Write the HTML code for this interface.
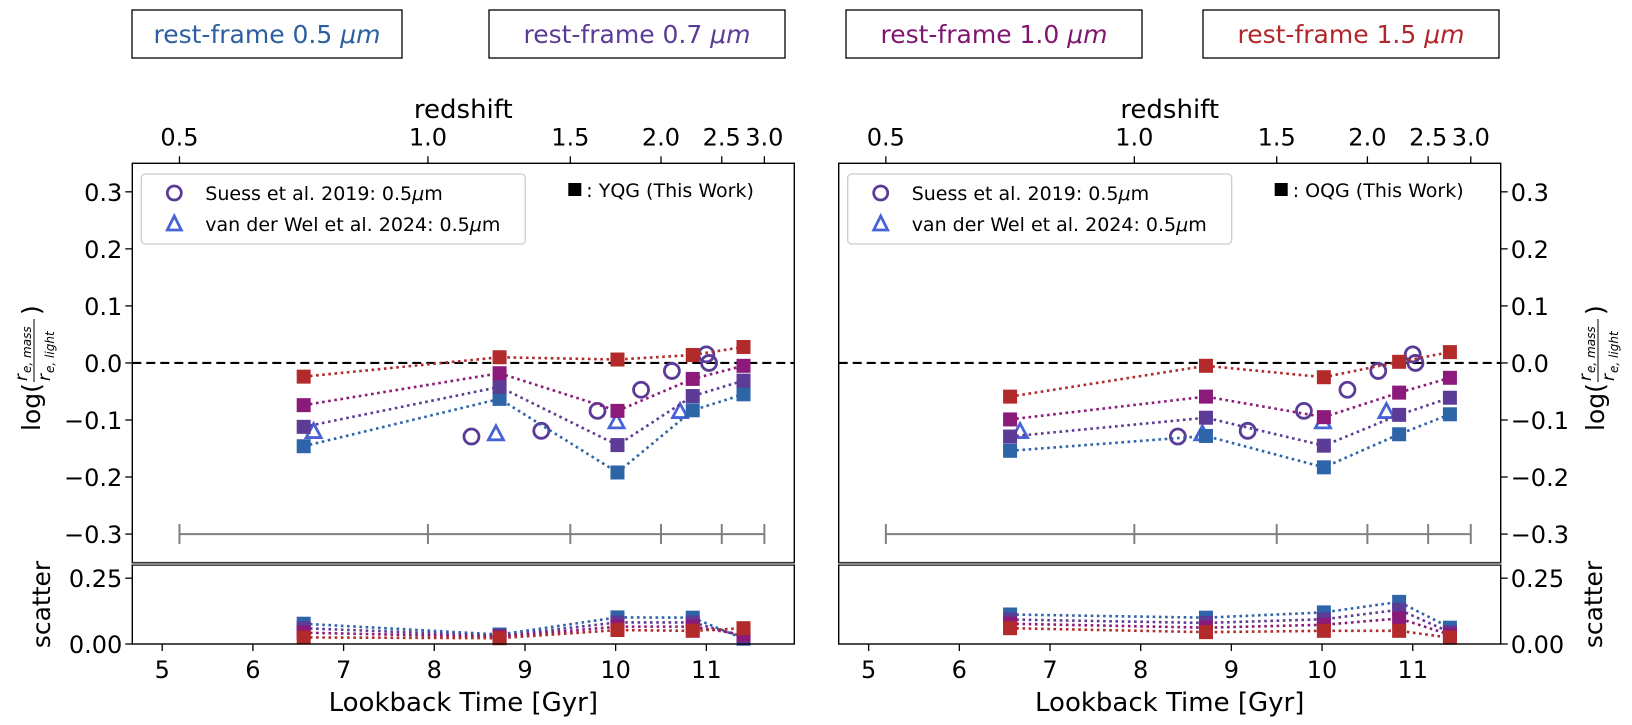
<!DOCTYPE html>
<html><head><meta charset="utf-8">
<style>
html,body{margin:0;padding:0;background:#fff;}
svg{display:block;font-family:"DejaVu Sans","Liberation Sans",sans-serif;}
</style></head>
<body>
<svg id="fig" width="1632" height="725" viewBox="0 0 1632 725" xmlns="http://www.w3.org/2000/svg">
  <g>
    <g><rect x="132" y="10" width="270" height="48" fill="#fff" stroke="#000" stroke-width="1.3"/><text x="267" y="43" text-anchor="middle" font-size="25" fill="#2b5fa0">rest-frame 0.5 <tspan font-style="italic">μm</tspan></text></g>
    <g><rect x="489" y="10" width="296" height="48" fill="#fff" stroke="#000" stroke-width="1.3"/><text x="637" y="43" text-anchor="middle" font-size="25" fill="#5a3b95">rest-frame 0.7 <tspan font-style="italic">μm</tspan></text></g>
    <g><rect x="846" y="10" width="296" height="48" fill="#fff" stroke="#000" stroke-width="1.3"/><text x="994" y="43" text-anchor="middle" font-size="25" fill="#7f1570">rest-frame 1.0 <tspan font-style="italic">μm</tspan></text></g>
    <g><rect x="1203" y="10" width="296" height="48" fill="#fff" stroke="#000" stroke-width="1.3"/><text x="1351" y="43" text-anchor="middle" font-size="25" fill="#b0262a">rest-frame 1.5 <tspan font-style="italic">μm</tspan></text></g>
  </g>
  <g id="panels"></g>
</svg>
<script>
// ---- data ----
const lookbackBins = [6.56, 8.72, 10.02, 10.85, 11.41];
const seriesNames = ["0.5um", "0.7um", "1.0um", "1.5um"];
const seriesColors = ["#2e64a8", "#5c3c96", "#8b1a7a", "#b22a2a"];
// YQG (left) log ratio
const yqg05 = [-0.146, -0.063, -0.192, -0.083, -0.055];
const yqg07 = [-0.112, -0.042, -0.144, -0.058, -0.031];
const yqg10 = [-0.074, -0.018, -0.084, -0.028, -0.005];
const yqg15 = [-0.024, 0.010, 0.006, 0.014, 0.028];
// OQG (right) log ratio
const oqg05 = [-0.154, -0.128, -0.183, -0.125, -0.090];
const oqg07 = [-0.129, -0.096, -0.145, -0.091, -0.061];
const oqg10 = [-0.099, -0.059, -0.095, -0.052, -0.026];
const oqg15 = [-0.059, -0.005, -0.025, 0.002, 0.019];
// scatter
const yqgSc05 = [0.077, 0.036, 0.101, 0.100, 0.020];
const yqgSc07 = [0.060, 0.031, 0.082, 0.082, 0.028];
const yqgSc10 = [0.043, 0.027, 0.066, 0.066, 0.035];
const yqgSc15 = [0.025, 0.022, 0.053, 0.050, 0.060];
const oqgSc05 = [0.112, 0.100, 0.120, 0.160, 0.062];
const oqgSc07 = [0.093, 0.080, 0.094, 0.130, 0.045];
const oqgSc10 = [0.077, 0.062, 0.073, 0.097, 0.035];
const oqgSc15 = [0.060, 0.045, 0.050, 0.050, 0.024];
// literature
const suessX = [8.41, 9.18, 9.80, 10.28, 10.62, 11.00, 11.03];
const suessY = [-0.129, -0.119, -0.084, -0.047, -0.014, 0.015, 0.000];
const welX = [6.67, 8.68, 10.01, 10.71];
const welY = [-0.122, -0.126, -0.105, -0.087];
// axes ticks
const xTicks = [5, 6, 7, 8, 9, 10, 11];
const yTicks = [0.3, 0.2, 0.1, 0.0, -0.1, -0.2, -0.3];
const scTicks = [0.25, 0.0];
const zLabels = ["0.5", "1.0", "1.5", "2.0", "2.5", "3.0"];
const zLookback = [5.19, 7.93, 9.50, 10.50, 11.17, 11.64];

const NS = "http://www.w3.org/2000/svg";
const root = document.getElementById("panels");
function mk(tag, attrs, parent){ const e=document.createElementNS(NS,tag); for(const k in attrs) e.setAttribute(k,attrs[k]); (parent||root).appendChild(e); return e; }

const xMin=4.67, xMax=11.97, W=662;
const mTop=163.3, mBot=562.6, yMin=-0.35, yMax=0.35;
const sTop=565, sBot=644, sMin=0, sMax=0.3;

function drawPanel(x0, side, main, sc, tag){
  const g = mk("g",{});
  
  
  const X = v => x0 + (v - xMin)/(xMax - xMin)*W;
  const Y = v => mBot - (v - yMin)/(yMax - yMin)*(mBot - mTop);
  const S = v => sBot - (v - sMin)/(sMax - sMin)*(sBot - sTop);
  const zl = mk("line",{x1:x0,x2:x0+W,y1:Y(0),y2:Y(0),stroke:"#000","stroke-width":2.2,"stroke-dasharray":"9 5"},g);
   
  const bar = mk("g",{},g);
   
  mk("line",{x1:X(zLookback[0]),x2:X(zLookback[zLookback.length-1]),y1:Y(-0.3),y2:Y(-0.3),stroke:"#808080","stroke-width":2},bar);
  zLookback.forEach(v=>mk("line",{x1:X(v),x2:X(v),y1:Y(-0.3)-10,y2:Y(-0.3)+10,stroke:"#808080","stroke-width":2},bar));
  suessX.forEach((v,i)=>{ const c=mk("circle",{cx:X(v),cy:Y(suessY[i]),r:7.5,fill:"none",stroke:"#5a3c96","stroke-width":2.8},g);
      });
  welX.forEach((v,i)=>{ const cx=X(v), cy=Y(welY[i]);
    const t=mk("polygon",{points:`${cx},${cy-9} ${cx-7.5},${cy+5} ${cx+7.5},${cy+5}`,fill:"none",stroke:"#4863d8","stroke-width":2.8},g);
      });
  main.forEach((arr,si)=>{
    const sg=mk("g",{},g);
     
    mk("polyline",{points:arr.map((v,i)=>X(lookbackBins[i])+","+Y(v)).join(" "),fill:"none",stroke:seriesColors[si],"stroke-width":2.6,"stroke-dasharray":"2.6 3.6"},sg);
    arr.forEach((v,i)=>{ const r=mk("rect",{x:X(lookbackBins[i])-7,y:Y(v)-7,width:14,height:14,fill:seriesColors[si]},sg);
        });
  });
  mk("rect",{x:x0,y:mTop,width:W,height:mBot-mTop,fill:"none",stroke:"#000","stroke-width":1.4},g);
  sc.forEach((arr,si)=>{
    const sg=mk("g",{},g);
     
    mk("polyline",{points:arr.map((v,i)=>X(lookbackBins[i])+","+S(v)).join(" "),fill:"none",stroke:seriesColors[si],"stroke-width":2.6,"stroke-dasharray":"2.6 3.6"},sg);
    arr.forEach((v,i)=>{ const r=mk("rect",{x:X(lookbackBins[i])-7,y:S(v)-7,width:14,height:14,fill:seriesColors[si]},sg);
        });
  });
  mk("rect",{x:x0,y:sTop,width:W,height:sBot-sTop,fill:"none",stroke:"#000","stroke-width":1.4},g);
  mk("rect",{x:x0,y:mBot,width:W,height:sTop-mBot,fill:"#888"},g);
  xTicks.forEach(v=>{ mk("line",{x1:X(v),x2:X(v),y1:sBot,y2:sBot+7,stroke:"#000","stroke-width":1.3},g);
    const t=mk("text",{x:X(v),y:678,"text-anchor":"middle","font-size":24},g); t.textContent=v;
      });
  const xt=mk("text",{x:x0+W/2,y:711,"text-anchor":"middle","font-size":26},g); xt.textContent="Lookback Time [Gyr]";
   
  zLookback.forEach((v,i)=>{ mk("line",{x1:X(v),x2:X(v),y1:mTop,y2:mTop-7,stroke:"#000","stroke-width":1.3},g);
    const t=mk("text",{x:X(v),y:mTop-18,"text-anchor":"middle","font-size":24},g); t.textContent=zLabels[i];
      });
  const zt=mk("text",{x:x0+W/2,y:118,"text-anchor":"middle","font-size":26},g); zt.textContent="redshift";
   
  const ax = side==="left" ? x0 : x0+W, dir = side==="left" ? -1 : 1;
  const anchor = side==="left" ? "end" : "start";
  yTicks.forEach(v=>{ mk("line",{x1:ax,x2:ax+dir*7,y1:Y(v),y2:Y(v),stroke:"#000","stroke-width":1.3},g);
    const lbl = (v<0?"\u2212":"")+Math.abs(v).toFixed(1);
    const t=mk("text",{x:ax+dir*10,y:Y(v)+9,"text-anchor":anchor,"font-size":24},g); t.textContent=lbl;
      });
  scTicks.forEach(v=>{ mk("line",{x1:ax,x2:ax+dir*7,y1:S(v),y2:S(v),stroke:"#000","stroke-width":1.3},g);
    const t=mk("text",{x:ax+dir*10,y:S(v)+9,"text-anchor":anchor,"font-size":24},g); t.textContent=v.toFixed(2);
      });
  const yx = side==="left" ? 32 : 1596;
  const yl=mk("g",{transform:`translate(${yx},${Y(0)}) rotate(-90)`},g);
   
  const a=mk("text",{x:-68,y:8,"font-size":25},yl); a.textContent="log(";
  const n=mk("text",{x:-18,y:-5,"font-size":17,"font-style":"italic"},yl); n.textContent="r";
  const ns=mk("text",{x:-10,y:-1,"font-size":12,"font-style":"italic"},yl); ns.textContent="e, mass";
  mk("line",{x1:-19,x2:44,y1:2,y2:2,stroke:"#000","stroke-width":1},yl);
  const d=mk("text",{x:-18,y:18,"font-size":17,"font-style":"italic"},yl); d.textContent="r";
  const ds=mk("text",{x:-10,y:22,"font-size":12,"font-style":"italic"},yl); ds.textContent="e, light";
  const cp=mk("text",{x:48,y:8,"font-size":25},yl); cp.textContent=")";
  const sx = side==="left" ? 50 : 1602;
  const st=mk("text",{transform:`translate(${sx},${(sTop+sBot)/2}) rotate(-90)`,"text-anchor":"middle","font-size":25},g); st.textContent="scatter";
   
  const lg=mk("g",{},g);
   
  mk("rect",{x:x0+9,y:174,width:384,height:70,rx:4,fill:"#fff","fill-opacity":0.8,stroke:"#ccc","stroke-width":1.3},lg);
  mk("circle",{cx:x0+42,cy:193,r:7,fill:"none",stroke:"#5a3c96","stroke-width":2.8},lg);
  const t1=mk("text",{x:x0+73,y:200,"font-size":19},lg); t1.innerHTML='Suess et al. 2019: 0.5<tspan font-style="italic">μ</tspan>m';
   
  mk("polygon",{points:`${x0+42},${216} ${x0+35},${230} ${x0+49},${230}`,fill:"none",stroke:"#4863d8","stroke-width":2.8},lg);
  const t2=mk("text",{x:x0+73,y:231,"font-size":19},lg); t2.innerHTML='van der Wel et al. 2024: 0.5<tspan font-style="italic">μ</tspan>m';
   
  const lab = tag==="yqg" ? "YQG" : "OQG";
  mk("rect",{x:x0+W-226,y:183,width:13,height:13,fill:"#000"},lg);
  const t3=mk("text",{x:x0+W-208,y:197,"font-size":19},lg); t3.textContent=": "+lab+" (This Work)";
   
}
drawPanel(132.3, "left", [yqg05,yqg07,yqg10,yqg15], [yqgSc05,yqgSc07,yqgSc10,yqgSc15], "yqg");
drawPanel(838.7, "right", [oqg05,oqg07,oqg10,oqg15], [oqgSc05,oqgSc07,oqgSc10,oqgSc15], "oqg");
</script>
</body></html>
